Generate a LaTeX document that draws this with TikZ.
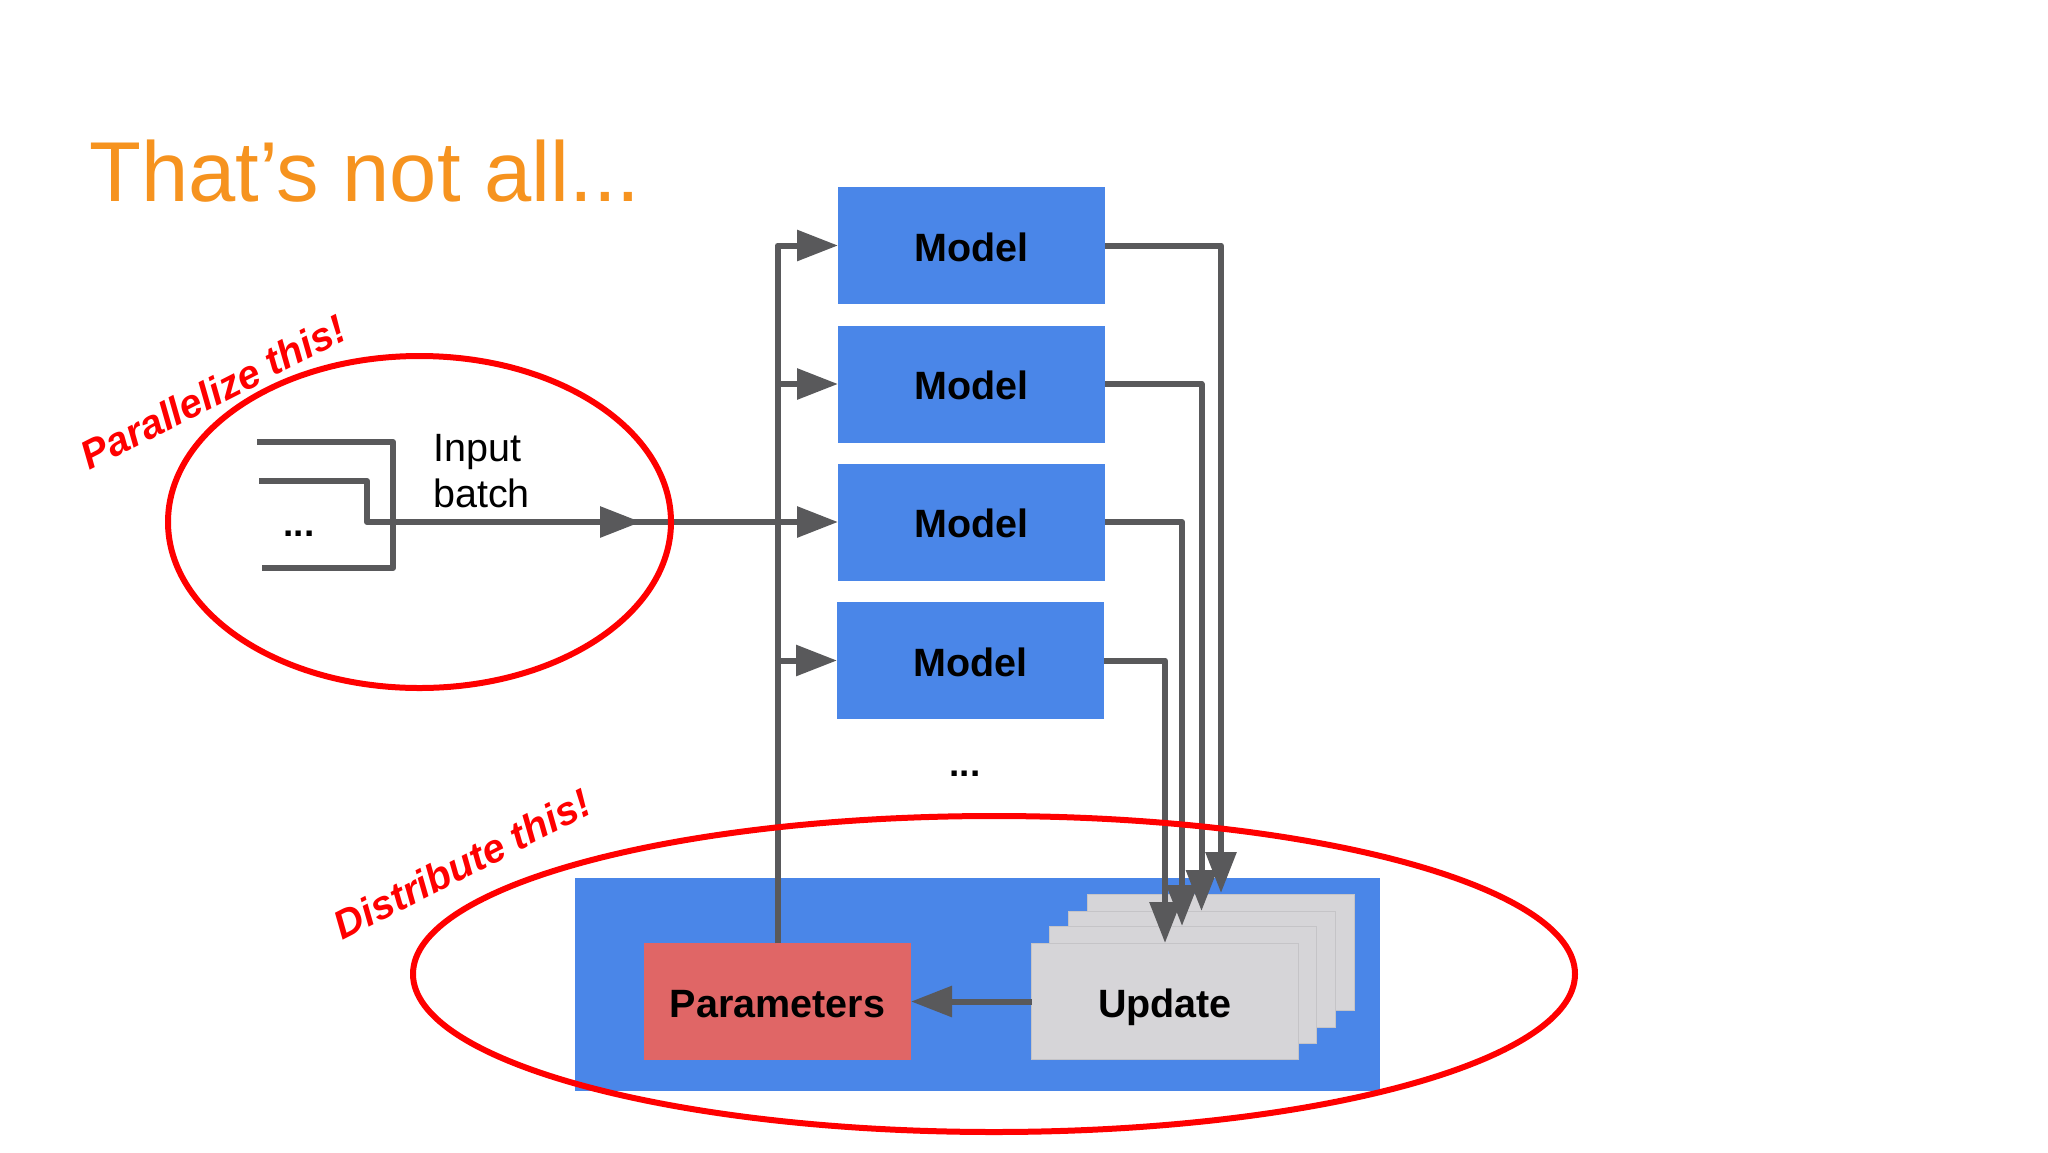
\documentclass[tikz,border=0pt]{standalone}
\usepackage{fontspec}
\setmainfont{Liberation Sans}
\usetikzlibrary{arrows.meta,shapes.geometric}
\definecolor{gblue}{HTML}{4A86E8}
\definecolor{gred}{HTML}{E06666}
\definecolor{ggray}{HTML}{D6D5D8}
\definecolor{gline}{HTML}{59595B}
\definecolor{gorange}{HTML}{F6931F}
\tikzset{
  box/.style={inner sep=0pt,outer sep=0pt,minimum height=117pt,minimum width=267pt,
    font=\fontsize{39.5}{46}\selectfont\bfseries,text height=31pt,text depth=0pt,text=black},
  modelbox/.style={box,fill=gblue},
  parambox/.style={box,fill=gred},
  updatebox/.style={box,fill=ggray,draw=ggray!92!black,line width=0.6pt,minimum width=266.5pt,minimum height=116.5pt},
  conn/.style={draw=gline,line width=6pt,line join=round},
  tip/.style={conn,-{Triangle[length=41pt,width=30pt,fill=gline]}},
  ring/.style={draw=red,line width=6pt},
  shout/.style={text=red,font=\fontsize{40}{46}\selectfont\bfseries\itshape,rotate=27,inner sep=0pt},
  dotslabel/.style={font=\fontsize{37}{44}\selectfont\bfseries,inner sep=0pt,text=black}
}
\begin{document}
\begin{tikzpicture}[x=1pt,y=-1pt]
\useasboundingbox (0,0) rectangle (2048,1152);
\fill[white] (0,0) rectangle (2048,1152);
% title
\node[anchor=base west,inner sep=0pt,text=gorange,font=\fontsize{85}{100}\selectfont] (title) at (89,201) {That’s not all...};
% base panel
\node[fill=gblue,inner sep=0pt,minimum width=804.5pt,minimum height=213pt] (panel) at (977.5,984.5) {};
% update stack
\node[updatebox] (u4) at (1221,952.5) {};
\node[updatebox] (u3) at (1202,969.5) {};
\node[updatebox] (u2) at (1183,985) {};
\node[updatebox] (update) at (1165,1001.5) {Update};
\node[parambox] (param) at (777.5,1001.5) {Parameters};
% models
\node[modelbox] (m1) at (971.5,245.5) {Model};
\node[modelbox] (m2) at (971.5,384) {Model};
\node[modelbox] (m3) at (971.5,522) {Model};
\node[modelbox] (m4) at (970.5,660.5) {Model};
\node[dotslabel] (moredots) at (965,774) {...};
% input
\node[dotslabel] (inputdots) at (299,534) {...};
\node[anchor=west,align=left,inner sep=0pt,text=black,font=\fontsize{39.5}{46}\selectfont] (inputlabel) at (433,471) {Input\\batch};
% free ends
\coordinate (a1) at (257,442);
\coordinate (a2) at (393,442);
\coordinate (a3) at (393,568);
\coordinate (a4) at (262,568);
\coordinate (b1) at (259,481);
\coordinate (b2) at (367,481);
\coordinate (b3) at (367,522);
\coordinate (inputtip) at (641,522);
\coordinate (inputjoin) at (620,522);
\coordinate (t1) at (1221,893);
\coordinate (t2) at (1201.5,911);
\coordinate (t3) at (1182,926);
\coordinate (t4) at (1165,943);
% input bracket
\draw[conn] (a1) -- (a2) -- (a3) -- (a4);
\draw[tip] (b1) -- (b2) -- (b3) -- (inputtip);
\draw[tip] (inputjoin) -- (m3.west);
% parameter feed
\draw[tip] (param.north) |- (m1.west);
\draw[tip] (param.north |- m2.west) -- (m2.west);
\draw[tip] (param.north |- m4.west) -- (m4.west);
% model outputs
\draw[tip] (m1.east) -| (t1);
\draw[tip] (m2.east) -| (t2);
\draw[tip] (m3.east) -| (t3);
\draw[tip] (m4.east) -| (t4);
% update
\draw[tip] (update.west) -- (param.east);
% rings
\node[ring,ellipse,inner sep=0pt,minimum width=503pt,minimum height=332pt] (ringa) at (419.5,522) {};
\node[ring,ellipse,inner sep=0pt,minimum width=1162pt,minimum height=316pt] (ringb) at (994,974) {};
\node[shout] (para) at (213,392) {Parallelize this!};
\node[shout] (dist) at (462,864) {Distribute this!};
\end{tikzpicture}
\end{document}
